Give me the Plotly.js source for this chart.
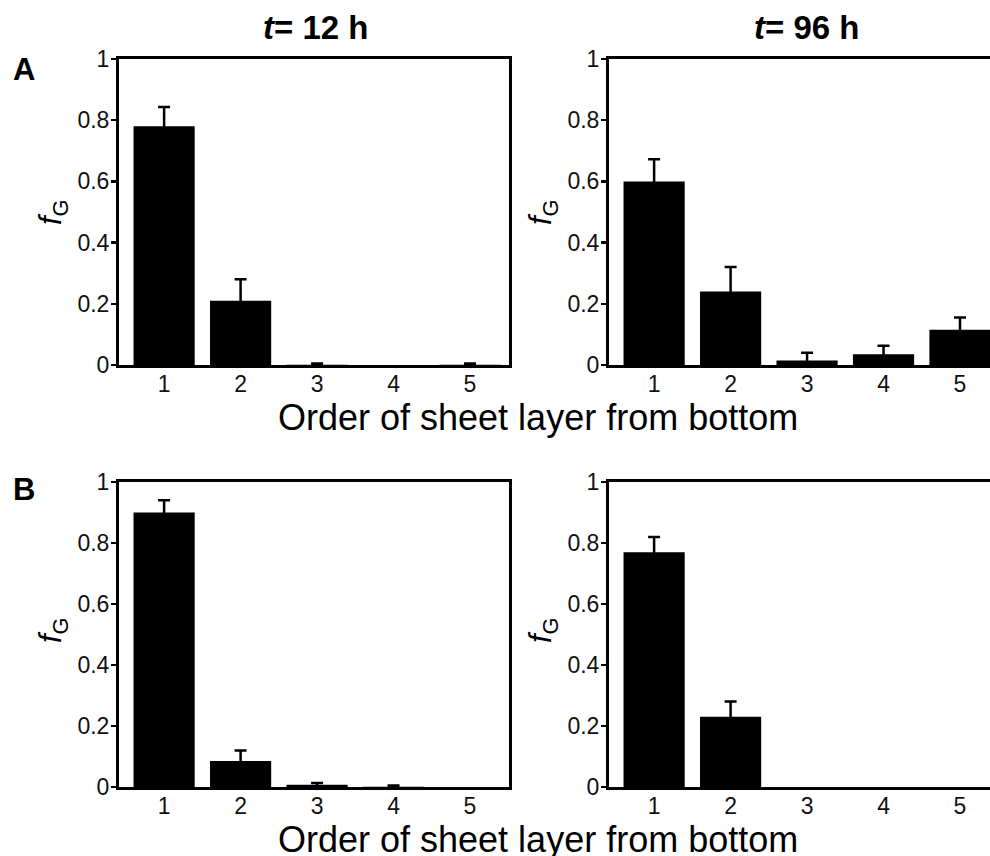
<!DOCTYPE html>
<html>
<head>
<meta charset="utf-8">
<script src="https://cdn.plot.ly/plotly-3.0.1.min.js"></script>
<style>
html,body{margin:0;padding:0;overflow:hidden;background:#fff;}
#chart{width:1010px;height:856px;}
</style>
</head>
<body>
<div id="chart"></div>
<script>
// Data
const layers = [1, 2, 3, 4, 5];
const tickLabels = ['1', '2', '3', '4', '5'];
const fA12 = [0.78, 0.21, 0.001, 0, 0.001];
const eA12 = [0.063, 0.07, 0.004, 0, 0.004];
const fA96 = [0.60, 0.24, 0.015, 0.035, 0.115];
const eA96 = [0.072, 0.08, 0.025, 0.028, 0.04];
const fB12 = [0.90, 0.085, 0.007, 0.001, 0];
const eB12 = [0.04, 0.035, 0.006, 0.004, 0];
const fB96 = [0.77, 0.23, 0, 0, 0];
const eB96 = [0.05, 0.05, 0, 0, 0];
const panelTitles = ['<i>t</i>= 12 h', '<i>t</i>= 96 h'];
const xTitle = 'Order of sheet layer from bottom';
const yTitle = '<i>f</i><sub>G</sub>';
const rowLabels = ['A', 'B'];

const W = 1010, H = 856;
const FONT = 'Liberation Sans, Arial, sans-serif';

function bar(x, y, e, xa, ya) {
  return {
    type: 'bar', x: x, y: y, xaxis: xa, yaxis: ya,
    width: 0.8,
    marker: {color: '#000', line: {width: 0}},
    error_y: {type: 'data', symmetric: true,
      array: e.map(v => v > 0 ? v : NaN), color: '#000', thickness: 2.5, width: 6},
    showlegend: false, hoverinfo: 'x+y'
  };
}

const data = [
  bar(layers, fA12, eA12, 'x', 'y'),
  bar(layers, fA96, eA96, 'x2', 'y2'),
  bar(layers, fB12, eB12, 'x3', 'y3'),
  bar(layers, fB96, eB96, 'x4', 'y4')
];

function xdom(l, r) { return [l / W, r / W]; }
function ydom(t, b) { return [1 - b / H, 1 - t / H]; }

function xax(dom, anchor) {
  return {
    domain: dom, anchor: anchor, range: [0.41, 5.51],
    tickvals: layers, ticktext: tickLabels, ticks: '',
    ticklabelstandoff: -4,
    showline: true, linecolor: '#000', linewidth: 3, mirror: true,
    showgrid: false, zeroline: false, fixedrange: true,
    tickfont: {family: FONT, size: 23, color: '#111'}
  };
}
function yax(dom, anchor) {
  return {
    domain: dom, anchor: anchor, range: [0, 1],
    tickvals: [0, 0.2, 0.4, 0.6, 0.8, 1], ticktext: ['0', '0.2', '0.4', '0.6', '0.8', '1'],
    ticks: 'outside', ticklen: 5, tickwidth: 2.5, tickcolor: '#000',
    ticklabelstandoff: -3,
    showline: true, linecolor: '#000', linewidth: 3, mirror: true,
    showgrid: false, zeroline: false, fixedrange: true,
    tickfont: {family: FONT, size: 23, color: '#111'}
  };
}

const colL = xdom(119, 509), colR = xdom(609, 999);
const rowT = ydom(59, 365), rowB = ydom(482, 787);

const ann = [];
function addAnn(text, x, y, size, extra) {
  ann.push(Object.assign({text: text, x: x / W, y: 1 - y / H, xref: 'paper', yref: 'paper',
    xanchor: 'center', yanchor: 'middle', showarrow: false,
    font: {family: FONT, size: size, color: '#000'}}, extra || {}));
}
addAnn('<b>' + panelTitles[0] + '</b>', 315, 28, 33);
addAnn('<b>' + panelTitles[1] + '</b>', 806, 28, 33);
addAnn('<b>' + rowLabels[0] + '</b>', 24, 69, 31);
addAnn('<b>' + rowLabels[1] + '</b>', 24, 489, 31);
addAnn(xTitle, 538, 417, 36);
addAnn(xTitle, 538, 839, 36);
addAnn(yTitle, 53, 212, 31, {textangle: -90});
addAnn(yTitle, 543, 212, 31, {textangle: -90});
addAnn(yTitle, 53, 630, 31, {textangle: -90});
addAnn(yTitle, 543, 630, 31, {textangle: -90});

const layout = {
  width: W, height: H,
  margin: {l: 0, r: 0, t: 0, b: 0},
  paper_bgcolor: '#fff', plot_bgcolor: '#fff',
  font: {family: FONT, color: '#000'},
  bargap: 0.2,
  xaxis: xax(colL, 'y'), yaxis: yax(rowT, 'x'),
  xaxis2: xax(colR, 'y2'), yaxis2: yax(rowT, 'x2'),
  xaxis3: xax(colL, 'y3'), yaxis3: yax(rowB, 'x3'),
  xaxis4: xax(colR, 'y4'), yaxis4: yax(rowB, 'x4'),
  annotations: ann
};

Plotly.newPlot('chart', data, layout, {displayModeBar: false, staticPlot: true});
</script>
</body>
</html>
